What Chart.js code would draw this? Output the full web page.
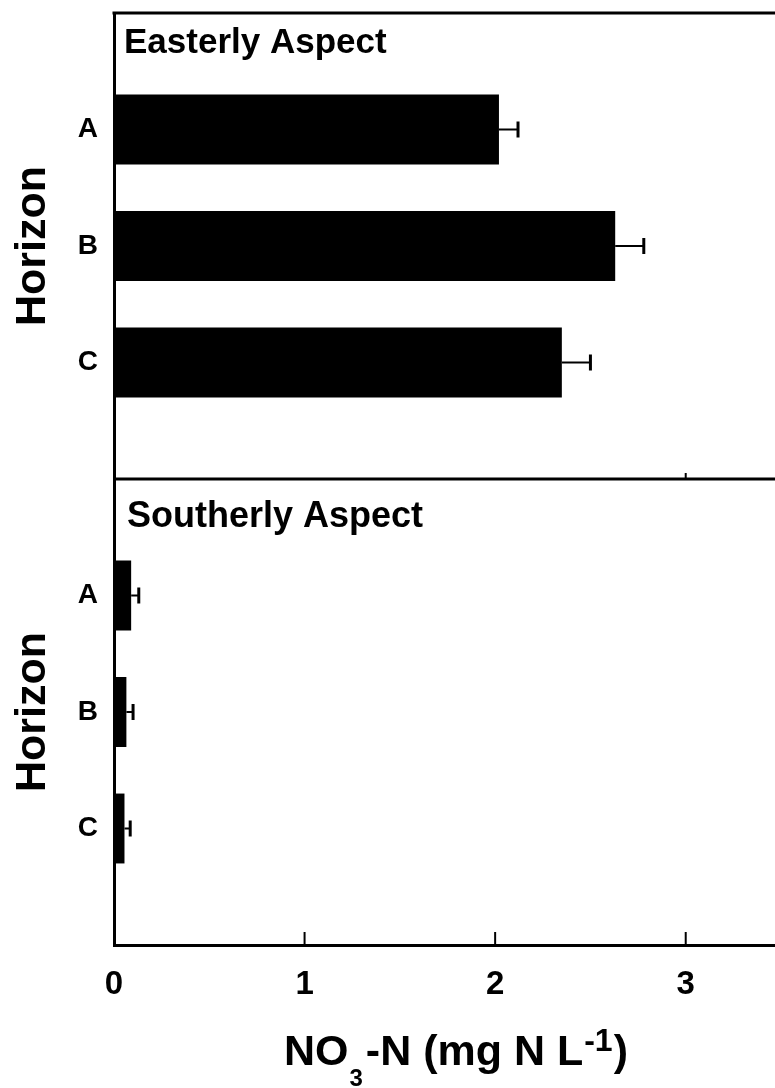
<!DOCTYPE html>
<html><head><meta charset="utf-8">
<script src="https://cdn.jsdelivr.net/npm/chart.js@4"></script>
<style>html,body{margin:0;padding:0;background:#fff;overflow:hidden;width:775px;height:1088px}canvas{display:block}</style>
</head><body>
<canvas id="c" width="800" height="1088"></canvas>
<script>
const horizons = ['', 'A', 'B', 'C', ''];
const easterlyMeans = [null, 2.02, 2.63, 2.35, null];
const easterlyErrors = [null, 0.10, 0.15, 0.15, null];
const southerlyMeans = [null, 0.09, 0.065, 0.055, null];
const southerlyErrors = [null, 0.04, 0.035, 0.03, null];
const xTickValues = [0, 1, 2, 3];
const panelTitles = ['Easterly Aspect', 'Southerly Aspect'];
const yTitle = 'Horizon';
const xTitle = 'NO3-N (mg N L-1)';
const xTitleParts = [['NO', 'normal'], ['3', 'sub'], ['-N (mg N L', 'normal'], ['-1', 'sup'], [')', 'normal']];

const FONT = "'Liberation Sans', Arial, Helvetica, sans-serif";

function yAxis() {
  return {
    type: 'category', labels: horizons, position: 'left', stack: 'panels', stackWeight: 1, offset: false,
    grid: { display: false, drawTicks: false },
    border: { display: true, color: '#000', width: 3 },
    ticks: { color: '#000', font: { family: FONT, size: 28, weight: 'bold' }, padding: 16, autoSkip: false },
    title: { display: true, text: yTitle, color: '#000', font: { family: FONT, size: 43, weight: 'bold' }, padding: { top: 7, bottom: 0 } },
    afterFit(s) { s.width = 114; s.paddingTop = 0; s.paddingBottom = 0; }
  };
}

const framePlugin = {
  id: 'frame',
  afterDraw(chart) {
    const ctx = chart.ctx, a = chart.chartArea, xs = chart.scales.x, yE = chart.scales.yE, yS = chart.scales.yS;
    ctx.save();
    ctx.strokeStyle = '#000';
    ctx.lineWidth = 3;
    ctx.beginPath(); ctx.moveTo(a.left - 1.5, a.top); ctx.lineTo(a.right, a.top); ctx.stroke();
    ctx.beginPath(); ctx.moveTo(a.left, yE.bottom); ctx.lineTo(a.right, yE.bottom); ctx.stroke();
    ctx.lineWidth = 2;
    xTickValues.forEach(v => {
      if (v === 0) return;
      const x = xs.getPixelForValue(v);
      ctx.beginPath(); ctx.moveTo(x, a.bottom); ctx.lineTo(x, a.bottom - 13); ctx.stroke();
    });
    const x3 = xs.getPixelForValue(xTickValues[xTickValues.length - 1]);
    ctx.beginPath(); ctx.moveTo(x3, yE.bottom); ctx.lineTo(x3, yE.bottom - 6); ctx.stroke();
    // panel titles
    ctx.fillStyle = '#000';
    ctx.textBaseline = 'alphabetic';
    ctx.textAlign = 'left';
    ctx.font = `bold 35px ${FONT}`;
    ctx.fillText(panelTitles[0], a.left + 10, yE.top + 40);
    ctx.font = `bold 36px ${FONT}`;
    ctx.fillText(panelTitles[1], a.left + 13, yS.top + 48);
    // x axis title with sub/superscript
    let x = 284;
    const base = 1065;
    xTitleParts.forEach(([t, kind]) => {
      let size = 43, y = base;
      if (kind === 'sub') { size = 24; y = base + 21; }
      if (kind === 'sup') { size = 32; y = base - 14; }
      ctx.font = `bold ${size}px ${FONT}`;
      ctx.fillText(t, x, y);
      x += ctx.measureText(t).width + (kind === 'sub' ? 3 : 1);
    });
    ctx.restore();
  }
};

const errorBarPlugin = {
  id: 'errorBars',
  afterDatasetsDraw(chart) {
    const ctx = chart.ctx, xs = chart.scales.x;
    ctx.save();
    ctx.strokeStyle = '#000';
    chart.data.datasets.forEach((ds, i) => {
      const meta = chart.getDatasetMeta(i);
      meta.data.forEach((bar, j) => {
        const v = ds.data[j], e = ds.errors[j];
        if (v == null || e == null) return;
        const x0 = xs.getPixelForValue(v), x1 = xs.getPixelForValue(v + e), y = bar.y;
        ctx.lineWidth = 2;
        ctx.beginPath(); ctx.moveTo(x0, y); ctx.lineTo(x1, y); ctx.stroke();
        ctx.lineWidth = 3;
        ctx.beginPath(); ctx.moveTo(x1, y - 8); ctx.lineTo(x1, y + 8); ctx.stroke();
      });
    });
    ctx.restore();
  }
};

new Chart(document.getElementById('c'), {
  type: 'bar',
  data: {
    labels: horizons,
    datasets: [
      { label: panelTitles[1], data: southerlyMeans, errors: southerlyErrors, yAxisID: 'yS', backgroundColor: '#000', barPercentage: 0.6, categoryPercentage: 1, grouped: false },
      { label: panelTitles[0], data: easterlyMeans, errors: easterlyErrors, yAxisID: 'yE', backgroundColor: '#000', barPercentage: 0.6, categoryPercentage: 1, grouped: false }
    ]
  },
  options: {
    indexAxis: 'y', responsive: false, animation: false, devicePixelRatio: 1,
    layout: { padding: { top: 13, left: 0, right: 19, bottom: 0 } },
    plugins: { legend: { display: false }, tooltip: { enabled: false } },
    scales: {
      x: {
        type: 'linear', min: 0, max: 3.5, position: 'bottom',
        ticks: { stepSize: 1, includeBounds: false, color: '#000', font: { family: FONT, size: 33, weight: 'bold' }, padding: 20, maxRotation: 0 },
        grid: { display: false, drawTicks: false },
        border: { display: true, color: '#000', width: 3 },
        title: { display: false, text: xTitle },
        afterFit(s) { s.height = 143; s.paddingLeft = 0; s.paddingRight = 0; }
      },
      yS: yAxis(),
      yE: yAxis()
    }
  },
  plugins: [errorBarPlugin, framePlugin]
});
</script>
</body></html>
